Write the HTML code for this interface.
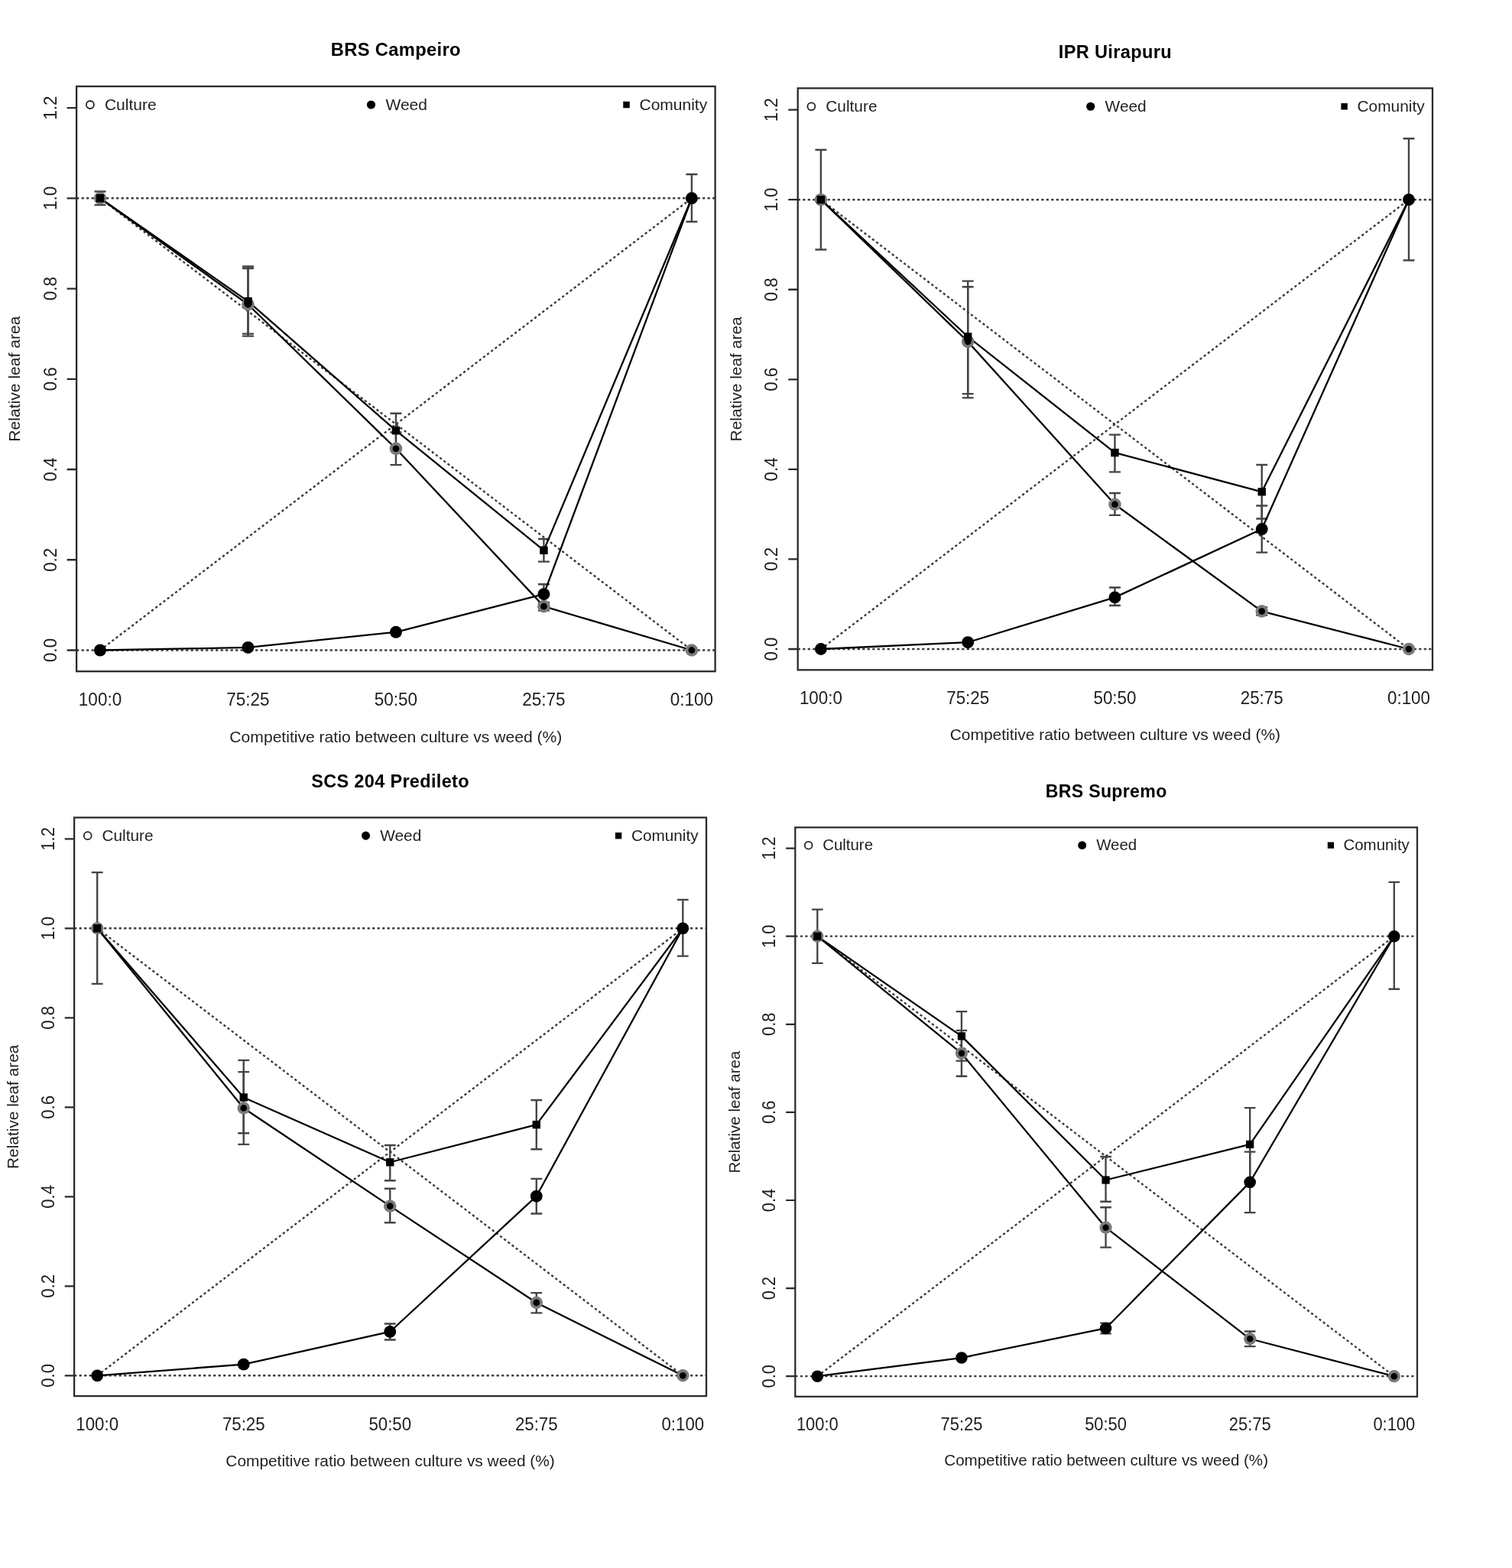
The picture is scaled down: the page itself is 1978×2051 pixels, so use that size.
<!DOCTYPE html>
<html><head><meta charset="utf-8"><title>Relative leaf area</title>
<style>
html,body{margin:0;padding:0;background:#fff;}
body{width:1978px;height:2051px;overflow:hidden;}
svg{display:block;filter:blur(0.5px);}
svg text{font-family:"Liberation Sans",sans-serif;}
</style></head>
<body>
<svg width="1978" height="2051" viewBox="0 0 1978 2051">
<rect width="1978" height="2051" fill="#fff"/>
<g stroke="#3a3a3a" stroke-width="2.4" stroke-dasharray="3.2 3.3" fill="none">
<line x1="100.1" y1="850.5" x2="935.6" y2="850.5"/>
<line x1="100.1" y1="259.3" x2="935.6" y2="259.3"/>
<line x1="131" y1="259.3" x2="904.9" y2="850.5"/>
<line x1="131" y1="850.5" x2="904.9" y2="259.3"/>
</g>
<g stroke="#444" stroke-width="2.4" fill="none">
<path d="M131 268.17V250.43M123.5 268.17H138.5M123.5 250.43H138.5"/>
<path d="M324.48 439.62V348.57M316.98 439.62H331.98M316.98 348.57H331.98"/>
<path d="M324.48 436.66V350.94M316.98 436.66H331.98M316.98 350.94H331.98"/>
<path d="M517.95 585.64V540.71M510.45 585.64H525.45M510.45 540.71H525.45"/>
<path d="M517.95 608.11V565.54M510.45 608.11H525.45M510.45 565.54H525.45"/>
<path d="M711.42 734.62V705.06M703.92 734.62H718.92M703.92 705.06H718.92"/>
<path d="M711.42 790.2V764.18M703.92 790.2H718.92M703.92 764.18H718.92"/>
<path d="M711.42 798.47V787.83M703.92 798.47H718.92M703.92 787.83H718.92"/>
<path d="M904.9 290.04V227.97M897.4 290.04H912.4M897.4 227.97H912.4"/>
</g>
<g stroke="#000" stroke-width="2.3" fill="none" stroke-linejoin="round">
<polyline points="131,259.3 324.48,398.23 517.95,586.82 711.42,793.15 904.9,850.5"/>
<polyline points="131,850.5 324.48,846.95 517.95,826.85 711.42,777.19 904.9,259.3"/>
<polyline points="131,259.3 324.48,394.09 517.95,563.18 711.42,719.84 904.9,259.3"/>
</g>
<circle cx="131" cy="259.3" r="8.3" fill="#7a7a7a"/>
<circle cx="131" cy="259.3" r="4.4" fill="#000"/>
<circle cx="324.48" cy="398.23" r="8.3" fill="#7a7a7a"/>
<circle cx="324.48" cy="398.23" r="4.4" fill="#000"/>
<circle cx="517.95" cy="586.82" r="8.3" fill="#7a7a7a"/>
<circle cx="517.95" cy="586.82" r="4.4" fill="#000"/>
<circle cx="711.42" cy="793.15" r="8.3" fill="#7a7a7a"/>
<circle cx="711.42" cy="793.15" r="4.4" fill="#000"/>
<circle cx="904.9" cy="850.5" r="8.3" fill="#7a7a7a"/>
<circle cx="904.9" cy="850.5" r="4.4" fill="#000"/>
<circle cx="131" cy="850.5" r="8" fill="#000"/>
<circle cx="324.48" cy="846.95" r="8" fill="#000"/>
<circle cx="517.95" cy="826.85" r="8" fill="#000"/>
<circle cx="711.42" cy="777.19" r="8" fill="#000"/>
<circle cx="904.9" cy="259.3" r="8" fill="#000"/>
<rect x="125.75" y="254.05" width="10.5" height="10.5" fill="#000"/>
<rect x="319.23" y="388.84" width="10.5" height="10.5" fill="#000"/>
<rect x="512.7" y="557.93" width="10.5" height="10.5" fill="#000"/>
<rect x="706.17" y="714.59" width="10.5" height="10.5" fill="#000"/>
<rect x="899.65" y="254.05" width="10.5" height="10.5" fill="#000"/>
<rect x="100.1" y="113" width="835.5" height="765.2" fill="none" stroke="#2a2a2a" stroke-width="2.3"/>
<path d="M87.6 850.5H100.1M87.6 732.26H100.1M87.6 614.02H100.1M87.6 495.78H100.1M87.6 377.54H100.1M87.6 259.3H100.1M87.6 141.06H100.1" stroke="#2a2a2a" stroke-width="2.3" fill="none"/>
<text transform="translate(73.6,850.5) rotate(-90) scale(1,1.1)" text-anchor="middle" font-size="22.5" fill="#1e1e1e">0.0</text>
<text transform="translate(73.6,732.26) rotate(-90) scale(1,1.1)" text-anchor="middle" font-size="22.5" fill="#1e1e1e">0.2</text>
<text transform="translate(73.6,614.02) rotate(-90) scale(1,1.1)" text-anchor="middle" font-size="22.5" fill="#1e1e1e">0.4</text>
<text transform="translate(73.6,495.78) rotate(-90) scale(1,1.1)" text-anchor="middle" font-size="22.5" fill="#1e1e1e">0.6</text>
<text transform="translate(73.6,377.54) rotate(-90) scale(1,1.1)" text-anchor="middle" font-size="22.5" fill="#1e1e1e">0.8</text>
<text transform="translate(73.6,259.3) rotate(-90) scale(1,1.1)" text-anchor="middle" font-size="22.5" fill="#1e1e1e">1.0</text>
<text transform="translate(73.6,141.06) rotate(-90) scale(1,1.1)" text-anchor="middle" font-size="22.5" fill="#1e1e1e">1.2</text>
<text transform="translate(131,923.2) scale(1,1.1)" text-anchor="middle" font-size="22.5" fill="#1e1e1e">100:0</text>
<text transform="translate(324.48,923.2) scale(1,1.1)" text-anchor="middle" font-size="22.5" fill="#1e1e1e">75:25</text>
<text transform="translate(517.95,923.2) scale(1,1.1)" text-anchor="middle" font-size="22.5" fill="#1e1e1e">50:50</text>
<text transform="translate(711.42,923.2) scale(1,1.1)" text-anchor="middle" font-size="22.5" fill="#1e1e1e">25:75</text>
<text transform="translate(904.9,923.2) scale(1,1.1)" text-anchor="middle" font-size="22.5" fill="#1e1e1e">0:100</text>
<text x="517.85" y="970.7" text-anchor="middle" font-size="21.1" fill="#1e1e1e">Competitive ratio between culture vs weed (%)</text>
<text transform="translate(25.8,495.6) rotate(-90)" text-anchor="middle" font-size="21.1" fill="#1e1e1e">Relative leaf area</text>
<text x="517.85" y="73" text-anchor="middle" font-size="23.7" font-weight="bold" letter-spacing="0.35" fill="#000">BRS Campeiro</text>
<circle cx="117.9" cy="137" r="5" fill="none" stroke="#222" stroke-width="1.8"/>
<circle cx="485.5" cy="137" r="5.6" fill="#000"/>
<rect x="815.25" y="132.75" width="8.5" height="8.5" fill="#000"/>
<text x="136.9" y="143.56" font-size="21" fill="#1e1e1e">Culture</text>
<text x="504.5" y="143.56" font-size="21" fill="#1e1e1e">Weed</text>
<text x="836.5" y="143.56" font-size="21" fill="#1e1e1e">Comunity</text>
<g stroke="#3a3a3a" stroke-width="2.39" stroke-dasharray="3.2 3.3" fill="none">
<line x1="1043.7" y1="849" x2="1874" y2="849"/>
<line x1="1043.7" y1="261.2" x2="1874" y2="261.2"/>
<line x1="1073.9" y1="261.2" x2="1843" y2="849"/>
<line x1="1073.9" y1="849" x2="1843" y2="261.2"/>
</g>
<g stroke="#444" stroke-width="2.39" fill="none">
<path d="M1073.9 326.45V195.95M1066.45 326.45H1081.35M1066.45 195.95H1081.35"/>
<path d="M1266.18 515.13V367.59M1258.72 515.13H1273.63M1258.72 367.59H1273.63"/>
<path d="M1266.18 520.42V375.23M1258.72 520.42H1273.63M1258.72 375.23H1273.63"/>
<path d="M1458.45 617.41V568.62M1451 617.41H1465.9M1451 568.62H1465.9"/>
<path d="M1458.45 673.84V645.03M1451 673.84H1465.9M1451 645.03H1465.9"/>
<path d="M1458.45 791.98V768.47M1451 791.98H1465.9M1451 768.47H1465.9"/>
<path d="M1650.72 678.54V608M1643.27 678.54H1658.18M1643.27 608H1658.18"/>
<path d="M1650.72 722.62V661.49M1643.27 722.62H1658.18M1643.27 661.49H1658.18"/>
<path d="M1650.72 804.91V794.33M1643.27 804.91H1658.18M1643.27 794.33H1658.18"/>
<path d="M1843 340.55V181.26M1835.55 340.55H1850.45M1835.55 181.26H1850.45"/>
</g>
<g stroke="#000" stroke-width="2.29" fill="none" stroke-linejoin="round">
<polyline points="1073.9,261.2 1266.18,446.94 1458.45,659.73 1650.72,799.62 1843,849"/>
<polyline points="1073.9,849 1266.18,840.18 1458.45,781.4 1650.72,692.06 1843,261.2"/>
<polyline points="1073.9,261.2 1266.18,440.48 1458.45,592.13 1650.72,643.27 1843,261.2"/>
</g>
<circle cx="1073.9" cy="261.2" r="8.25" fill="#7a7a7a"/>
<circle cx="1073.9" cy="261.2" r="4.37" fill="#000"/>
<circle cx="1266.18" cy="446.94" r="8.25" fill="#7a7a7a"/>
<circle cx="1266.18" cy="446.94" r="4.37" fill="#000"/>
<circle cx="1458.45" cy="659.73" r="8.25" fill="#7a7a7a"/>
<circle cx="1458.45" cy="659.73" r="4.37" fill="#000"/>
<circle cx="1650.72" cy="799.62" r="8.25" fill="#7a7a7a"/>
<circle cx="1650.72" cy="799.62" r="4.37" fill="#000"/>
<circle cx="1843" cy="849" r="8.25" fill="#7a7a7a"/>
<circle cx="1843" cy="849" r="4.37" fill="#000"/>
<circle cx="1073.9" cy="849" r="7.95" fill="#000"/>
<circle cx="1266.18" cy="840.18" r="7.95" fill="#000"/>
<circle cx="1458.45" cy="781.4" r="7.95" fill="#000"/>
<circle cx="1650.72" cy="692.06" r="7.95" fill="#000"/>
<circle cx="1843" cy="261.2" r="7.95" fill="#000"/>
<rect x="1068.68" y="255.98" width="10.43" height="10.43" fill="#000"/>
<rect x="1260.96" y="435.26" width="10.43" height="10.43" fill="#000"/>
<rect x="1453.23" y="586.91" width="10.43" height="10.43" fill="#000"/>
<rect x="1645.51" y="638.05" width="10.43" height="10.43" fill="#000"/>
<rect x="1837.78" y="255.98" width="10.43" height="10.43" fill="#000"/>
<rect x="1043.7" y="115.4" width="830.3" height="760.9" fill="none" stroke="#2a2a2a" stroke-width="2.29"/>
<path d="M1031.28 849H1043.7M1031.28 731.44H1043.7M1031.28 613.88H1043.7M1031.28 496.32H1043.7M1031.28 378.76H1043.7M1031.28 261.2H1043.7M1031.28 143.64H1043.7" stroke="#2a2a2a" stroke-width="2.29" fill="none"/>
<text transform="translate(1017.36,849) rotate(-90) scale(1,1.1)" text-anchor="middle" font-size="22.36" fill="#1e1e1e">0.0</text>
<text transform="translate(1017.36,731.44) rotate(-90) scale(1,1.1)" text-anchor="middle" font-size="22.36" fill="#1e1e1e">0.2</text>
<text transform="translate(1017.36,613.88) rotate(-90) scale(1,1.1)" text-anchor="middle" font-size="22.36" fill="#1e1e1e">0.4</text>
<text transform="translate(1017.36,496.32) rotate(-90) scale(1,1.1)" text-anchor="middle" font-size="22.36" fill="#1e1e1e">0.6</text>
<text transform="translate(1017.36,378.76) rotate(-90) scale(1,1.1)" text-anchor="middle" font-size="22.36" fill="#1e1e1e">0.8</text>
<text transform="translate(1017.36,261.2) rotate(-90) scale(1,1.1)" text-anchor="middle" font-size="22.36" fill="#1e1e1e">1.0</text>
<text transform="translate(1017.36,143.64) rotate(-90) scale(1,1.1)" text-anchor="middle" font-size="22.36" fill="#1e1e1e">1.2</text>
<text transform="translate(1073.9,921.02) scale(1,1.1)" text-anchor="middle" font-size="22.36" fill="#1e1e1e">100:0</text>
<text transform="translate(1266.18,921.02) scale(1,1.1)" text-anchor="middle" font-size="22.36" fill="#1e1e1e">75:25</text>
<text transform="translate(1458.45,921.02) scale(1,1.1)" text-anchor="middle" font-size="22.36" fill="#1e1e1e">50:50</text>
<text transform="translate(1650.72,921.02) scale(1,1.1)" text-anchor="middle" font-size="22.36" fill="#1e1e1e">25:75</text>
<text transform="translate(1843,921.02) scale(1,1.1)" text-anchor="middle" font-size="22.36" fill="#1e1e1e">0:100</text>
<text x="1458.85" y="968.22" text-anchor="middle" font-size="20.97" fill="#1e1e1e">Competitive ratio between culture vs weed (%)</text>
<text transform="translate(969.86,495.85) rotate(-90)" text-anchor="middle" font-size="20.97" fill="#1e1e1e">Relative leaf area</text>
<text x="1458.85" y="75.65" text-anchor="middle" font-size="23.55" font-weight="bold" letter-spacing="0.35" fill="#000">IPR Uirapuru</text>
<circle cx="1061.39" cy="139.25" r="4.97" fill="none" stroke="#222" stroke-width="1.79"/>
<circle cx="1426.7" cy="139.25" r="5.57" fill="#000"/>
<rect x="1754.4" y="135.03" width="8.45" height="8.45" fill="#000"/>
<text x="1080.27" y="145.77" font-size="20.87" fill="#1e1e1e">Culture</text>
<text x="1445.58" y="145.77" font-size="20.87" fill="#1e1e1e">Weed</text>
<text x="1775.52" y="145.77" font-size="20.87" fill="#1e1e1e">Comunity</text>
<g stroke="#3a3a3a" stroke-width="2.38" stroke-dasharray="3.2 3.3" fill="none">
<line x1="97.1" y1="1799.3" x2="924" y2="1799.3"/>
<line x1="97.1" y1="1214.3" x2="924" y2="1214.3"/>
<line x1="127.2" y1="1214.3" x2="893.3" y2="1799.3"/>
<line x1="127.2" y1="1799.3" x2="893.3" y2="1214.3"/>
</g>
<g stroke="#444" stroke-width="2.38" fill="none">
<path d="M127.2 1286.84V1141.17M119.78 1286.84H134.62M119.78 1141.17H134.62"/>
<path d="M318.72 1482.23V1386.88M311.3 1482.23H326.15M311.3 1386.88H326.15"/>
<path d="M318.72 1496.86V1402.09M311.3 1496.86H326.15M311.3 1402.09H326.15"/>
<path d="M510.25 1544.24V1498.02M502.83 1544.24H517.67M502.83 1498.02H517.67"/>
<path d="M510.25 1599.23V1554.77M502.83 1599.23H517.67M502.83 1554.77H517.67"/>
<path d="M510.25 1752.5V1731.44M502.83 1752.5H517.67M502.83 1731.44H517.67"/>
<path d="M701.77 1503.29V1438.94M694.35 1503.29H709.2M694.35 1438.94H709.2"/>
<path d="M701.77 1587.53V1541.9M694.35 1587.53H709.2M694.35 1541.9H709.2"/>
<path d="M701.77 1717.4V1691.08M694.35 1717.4H709.2M694.35 1691.08H709.2"/>
<path d="M893.3 1250.57V1176.86M885.88 1250.57H900.72M885.88 1176.86H900.72"/>
</g>
<g stroke="#000" stroke-width="2.28" fill="none" stroke-linejoin="round">
<polyline points="127.2,1214.3 318.72,1449.47 510.25,1577.59 701.77,1703.94 893.3,1799.3"/>
<polyline points="127.2,1799.3 318.72,1784.67 510.25,1741.97 701.77,1564.71 893.3,1214.3"/>
<polyline points="127.2,1214.3 318.72,1435.43 510.25,1520.25 701.77,1471.11 893.3,1214.3"/>
</g>
<circle cx="127.2" cy="1214.3" r="8.21" fill="#7a7a7a"/>
<circle cx="127.2" cy="1214.3" r="4.35" fill="#000"/>
<circle cx="318.72" cy="1449.47" r="8.21" fill="#7a7a7a"/>
<circle cx="318.72" cy="1449.47" r="4.35" fill="#000"/>
<circle cx="510.25" cy="1577.59" r="8.21" fill="#7a7a7a"/>
<circle cx="510.25" cy="1577.59" r="4.35" fill="#000"/>
<circle cx="701.77" cy="1703.94" r="8.21" fill="#7a7a7a"/>
<circle cx="701.77" cy="1703.94" r="4.35" fill="#000"/>
<circle cx="893.3" cy="1799.3" r="8.21" fill="#7a7a7a"/>
<circle cx="893.3" cy="1799.3" r="4.35" fill="#000"/>
<circle cx="127.2" cy="1799.3" r="7.92" fill="#000"/>
<circle cx="318.72" cy="1784.67" r="7.92" fill="#000"/>
<circle cx="510.25" cy="1741.97" r="7.92" fill="#000"/>
<circle cx="701.77" cy="1564.71" r="7.92" fill="#000"/>
<circle cx="893.3" cy="1214.3" r="7.92" fill="#000"/>
<rect x="122" y="1209.1" width="10.39" height="10.39" fill="#000"/>
<rect x="313.53" y="1430.23" width="10.39" height="10.39" fill="#000"/>
<rect x="505.05" y="1515.06" width="10.39" height="10.39" fill="#000"/>
<rect x="696.58" y="1465.92" width="10.39" height="10.39" fill="#000"/>
<rect x="888.1" y="1209.1" width="10.39" height="10.39" fill="#000"/>
<rect x="97.1" y="1069.4" width="826.9" height="756.7" fill="none" stroke="#2a2a2a" stroke-width="2.28"/>
<path d="M84.73 1799.3H97.1M84.73 1682.3H97.1M84.73 1565.3H97.1M84.73 1448.3H97.1M84.73 1331.3H97.1M84.73 1214.3H97.1M84.73 1097.3H97.1" stroke="#2a2a2a" stroke-width="2.28" fill="none"/>
<text transform="translate(70.87,1799.3) rotate(-90) scale(1,1.1)" text-anchor="middle" font-size="22.27" fill="#1e1e1e">0.0</text>
<text transform="translate(70.87,1682.3) rotate(-90) scale(1,1.1)" text-anchor="middle" font-size="22.27" fill="#1e1e1e">0.2</text>
<text transform="translate(70.87,1565.3) rotate(-90) scale(1,1.1)" text-anchor="middle" font-size="22.27" fill="#1e1e1e">0.4</text>
<text transform="translate(70.87,1448.3) rotate(-90) scale(1,1.1)" text-anchor="middle" font-size="22.27" fill="#1e1e1e">0.6</text>
<text transform="translate(70.87,1331.3) rotate(-90) scale(1,1.1)" text-anchor="middle" font-size="22.27" fill="#1e1e1e">0.8</text>
<text transform="translate(70.87,1214.3) rotate(-90) scale(1,1.1)" text-anchor="middle" font-size="22.27" fill="#1e1e1e">1.0</text>
<text transform="translate(70.87,1097.3) rotate(-90) scale(1,1.1)" text-anchor="middle" font-size="22.27" fill="#1e1e1e">1.2</text>
<text transform="translate(127.2,1870.64) scale(1,1.1)" text-anchor="middle" font-size="22.27" fill="#1e1e1e">100:0</text>
<text transform="translate(318.72,1870.64) scale(1,1.1)" text-anchor="middle" font-size="22.27" fill="#1e1e1e">75:25</text>
<text transform="translate(510.25,1870.64) scale(1,1.1)" text-anchor="middle" font-size="22.27" fill="#1e1e1e">50:50</text>
<text transform="translate(701.77,1870.64) scale(1,1.1)" text-anchor="middle" font-size="22.27" fill="#1e1e1e">25:75</text>
<text transform="translate(893.3,1870.64) scale(1,1.1)" text-anchor="middle" font-size="22.27" fill="#1e1e1e">0:100</text>
<text x="510.55" y="1917.65" text-anchor="middle" font-size="20.88" fill="#1e1e1e">Competitive ratio between culture vs weed (%)</text>
<text transform="translate(23.56,1447.75) rotate(-90)" text-anchor="middle" font-size="20.88" fill="#1e1e1e">Relative leaf area</text>
<text x="510.55" y="1029.81" text-anchor="middle" font-size="23.46" font-weight="bold" letter-spacing="0.35" fill="#000">SCS 204 Predileto</text>
<circle cx="114.72" cy="1093.15" r="4.95" fill="none" stroke="#222" stroke-width="1.78"/>
<circle cx="478.53" cy="1093.15" r="5.54" fill="#000"/>
<rect x="804.89" y="1088.95" width="8.41" height="8.41" fill="#000"/>
<text x="133.52" y="1099.65" font-size="20.78" fill="#1e1e1e">Culture</text>
<text x="497.34" y="1099.65" font-size="20.78" fill="#1e1e1e">Weed</text>
<text x="825.92" y="1099.65" font-size="20.78" fill="#1e1e1e">Comunity</text>
<g stroke="#3a3a3a" stroke-width="2.34" stroke-dasharray="3.2 3.3" fill="none">
<line x1="1040.3" y1="1800.2" x2="1854" y2="1800.2"/>
<line x1="1040.3" y1="1224.7" x2="1854" y2="1224.7"/>
<line x1="1069.3" y1="1224.7" x2="1823.8" y2="1800.2"/>
<line x1="1069.3" y1="1800.2" x2="1823.8" y2="1224.7"/>
</g>
<g stroke="#444" stroke-width="2.34" fill="none">
<path d="M1069.3 1259.81V1189.59M1062 1259.81H1076.6M1062 1189.59H1076.6"/>
<path d="M1257.92 1387.57V1323.11M1250.62 1387.57H1265.23M1250.62 1323.11H1265.23"/>
<path d="M1257.92 1407.71V1347.86M1250.62 1407.71H1265.23M1250.62 1347.86H1265.23"/>
<path d="M1446.55 1571.73V1513.03M1439.25 1571.73H1453.85M1439.25 1513.03H1453.85"/>
<path d="M1446.55 1631.58V1579.21M1439.25 1631.58H1453.85M1439.25 1579.21H1453.85"/>
<path d="M1446.55 1744.38V1730.56M1439.25 1744.38H1453.85M1439.25 1730.56H1453.85"/>
<path d="M1635.17 1544.68V1449.14M1627.87 1544.68H1642.48M1627.87 1449.14H1642.48"/>
<path d="M1635.17 1586.11V1506.7M1627.87 1586.11H1642.48M1627.87 1506.7H1642.48"/>
<path d="M1635.17 1761.07V1741.5M1627.87 1761.07H1642.48M1627.87 1741.5H1642.48"/>
<path d="M1823.8 1293.76V1153.91M1816.5 1293.76H1831.1M1816.5 1153.91H1831.1"/>
</g>
<g stroke="#000" stroke-width="2.24" fill="none" stroke-linejoin="round">
<polyline points="1069.3,1224.7 1257.92,1377.78 1446.55,1605.68 1635.17,1751.28 1823.8,1800.2"/>
<polyline points="1069.3,1800.2 1257.92,1776.03 1446.55,1737.47 1635.17,1546.4 1823.8,1224.7"/>
<polyline points="1069.3,1224.7 1257.92,1355.34 1446.55,1543.53 1635.17,1496.91 1823.8,1224.7"/>
</g>
<circle cx="1069.3" cy="1224.7" r="8.08" fill="#7a7a7a"/>
<circle cx="1069.3" cy="1224.7" r="4.29" fill="#000"/>
<circle cx="1257.92" cy="1377.78" r="8.08" fill="#7a7a7a"/>
<circle cx="1257.92" cy="1377.78" r="4.29" fill="#000"/>
<circle cx="1446.55" cy="1605.68" r="8.08" fill="#7a7a7a"/>
<circle cx="1446.55" cy="1605.68" r="4.29" fill="#000"/>
<circle cx="1635.17" cy="1751.28" r="8.08" fill="#7a7a7a"/>
<circle cx="1635.17" cy="1751.28" r="4.29" fill="#000"/>
<circle cx="1823.8" cy="1800.2" r="8.08" fill="#7a7a7a"/>
<circle cx="1823.8" cy="1800.2" r="4.29" fill="#000"/>
<circle cx="1069.3" cy="1800.2" r="7.79" fill="#000"/>
<circle cx="1257.92" cy="1776.03" r="7.79" fill="#000"/>
<circle cx="1446.55" cy="1737.47" r="7.79" fill="#000"/>
<circle cx="1635.17" cy="1546.4" r="7.79" fill="#000"/>
<circle cx="1823.8" cy="1224.7" r="7.79" fill="#000"/>
<rect x="1064.19" y="1219.59" width="10.23" height="10.23" fill="#000"/>
<rect x="1252.81" y="1350.23" width="10.23" height="10.23" fill="#000"/>
<rect x="1441.44" y="1538.41" width="10.23" height="10.23" fill="#000"/>
<rect x="1630.06" y="1491.8" width="10.23" height="10.23" fill="#000"/>
<rect x="1818.69" y="1219.59" width="10.23" height="10.23" fill="#000"/>
<rect x="1040.3" y="1082.3" width="813.7" height="744.5" fill="none" stroke="#2a2a2a" stroke-width="2.24"/>
<path d="M1028.13 1800.2H1040.3M1028.13 1685.1H1040.3M1028.13 1570H1040.3M1028.13 1454.9H1040.3M1028.13 1339.8H1040.3M1028.13 1224.7H1040.3M1028.13 1109.6H1040.3" stroke="#2a2a2a" stroke-width="2.24" fill="none"/>
<text transform="translate(1014.49,1800.2) rotate(-90) scale(1,1.1)" text-anchor="middle" font-size="21.91" fill="#1e1e1e">0.0</text>
<text transform="translate(1014.49,1685.1) rotate(-90) scale(1,1.1)" text-anchor="middle" font-size="21.91" fill="#1e1e1e">0.2</text>
<text transform="translate(1014.49,1570) rotate(-90) scale(1,1.1)" text-anchor="middle" font-size="21.91" fill="#1e1e1e">0.4</text>
<text transform="translate(1014.49,1454.9) rotate(-90) scale(1,1.1)" text-anchor="middle" font-size="21.91" fill="#1e1e1e">0.6</text>
<text transform="translate(1014.49,1339.8) rotate(-90) scale(1,1.1)" text-anchor="middle" font-size="21.91" fill="#1e1e1e">0.8</text>
<text transform="translate(1014.49,1224.7) rotate(-90) scale(1,1.1)" text-anchor="middle" font-size="21.91" fill="#1e1e1e">1.0</text>
<text transform="translate(1014.49,1109.6) rotate(-90) scale(1,1.1)" text-anchor="middle" font-size="21.91" fill="#1e1e1e">1.2</text>
<text transform="translate(1069.3,1870.63) scale(1,1.1)" text-anchor="middle" font-size="21.91" fill="#1e1e1e">100:0</text>
<text transform="translate(1257.92,1870.63) scale(1,1.1)" text-anchor="middle" font-size="21.91" fill="#1e1e1e">75:25</text>
<text transform="translate(1446.55,1870.63) scale(1,1.1)" text-anchor="middle" font-size="21.91" fill="#1e1e1e">50:50</text>
<text transform="translate(1635.17,1870.63) scale(1,1.1)" text-anchor="middle" font-size="21.91" fill="#1e1e1e">25:75</text>
<text transform="translate(1823.8,1870.63) scale(1,1.1)" text-anchor="middle" font-size="21.91" fill="#1e1e1e">0:100</text>
<text x="1447.15" y="1916.89" text-anchor="middle" font-size="20.55" fill="#1e1e1e">Competitive ratio between culture vs weed (%)</text>
<text transform="translate(967.94,1454.55) rotate(-90)" text-anchor="middle" font-size="20.55" fill="#1e1e1e">Relative leaf area</text>
<text x="1447.15" y="1043.34" text-anchor="middle" font-size="23.08" font-weight="bold" letter-spacing="0.34" fill="#000">BRS Supremo</text>
<circle cx="1057.64" cy="1105.67" r="4.87" fill="none" stroke="#222" stroke-width="1.75"/>
<circle cx="1415.64" cy="1105.67" r="5.45" fill="#000"/>
<rect x="1736.79" y="1101.53" width="8.28" height="8.28" fill="#000"/>
<text x="1076.14" y="1112.06" font-size="20.45" fill="#1e1e1e">Culture</text>
<text x="1434.15" y="1112.06" font-size="20.45" fill="#1e1e1e">Weed</text>
<text x="1757.49" y="1112.06" font-size="20.45" fill="#1e1e1e">Comunity</text>
</svg>
</body></html>
